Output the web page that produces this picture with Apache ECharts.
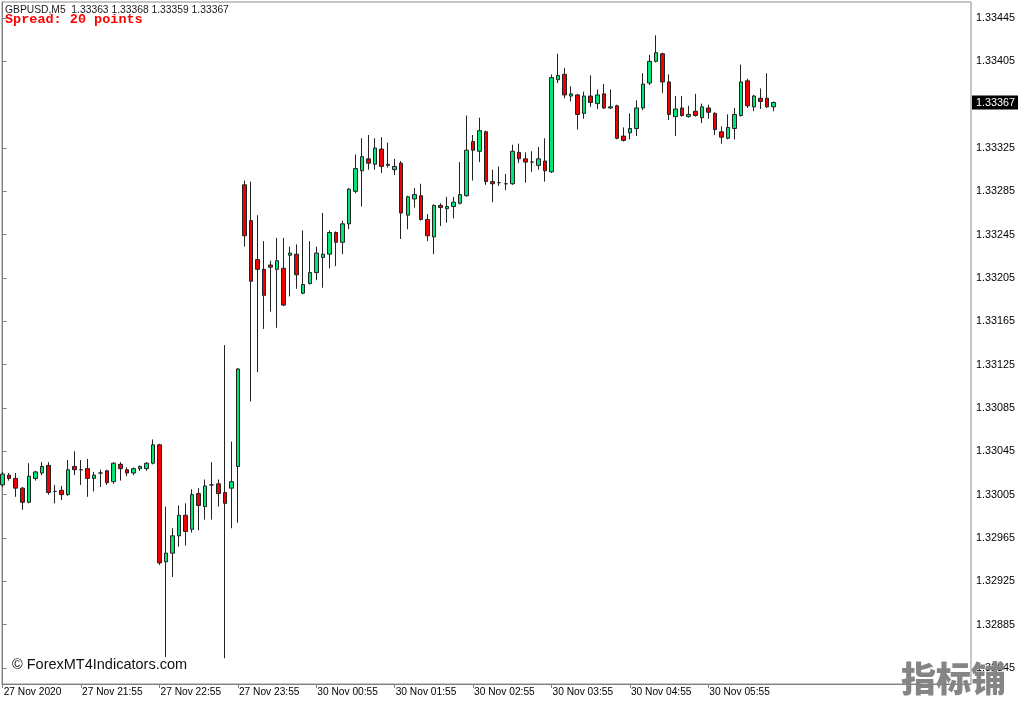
<!DOCTYPE html>
<html>
<head>
<meta charset="utf-8">
<script src="https://cdn.jsdelivr.net/npm/echarts@6/dist/echarts.min.js"></script>
<style>html,body{margin:0;padding:0;background:#fff}#c{width:1024px;height:704px}</style>
</head>
<body>
<div id="c"></div>
<script>
// ---- data (GBPUSD M5, bar index 0 = 27 Nov 20:55) ----
const headerText = 'GBPUSD,M5  1.33363 1.33368 1.33359 1.33367';
const spreadText = 'Spread: 20 points';
const copyrightText = '\u00A9 ForexMT4Indicators.com';
const watermarkText = '指标铺';

const open = [1.33014,1.33023,1.33020,1.33011,1.32998,1.33020,1.33025,1.33032,1.33008,1.33009,
1.33005,1.33031,1.33028,1.33029,1.33020,1.33025,1.33027,1.33017,1.33033,1.33028,
1.33025,1.33029,1.33029,1.33034,1.33051,1.32943,1.32951,1.32967,1.32986,1.32973,
1.33006,1.32994,1.33014,1.33015,1.33007,1.33011,1.33031,1.33291,1.33258,1.33222,
1.33213,1.33217,1.33213,1.33214,1.33226,1.33227,1.33191,1.33200,1.33210,1.33224,
1.33227,1.33247,1.33238,1.33255,1.33285,1.33304,1.33315,1.33310,1.33324,1.33309,
1.33305,1.33311,1.33263,1.33278,1.33281,1.33259,1.33243,1.33272,1.33269,1.33271,
1.33274,1.33281,1.33331,1.33322,1.33340,1.33294,1.33293,1.33292,1.33292,1.33321,
1.33315,1.33312,1.33309,1.33313,1.33303,1.33388,1.33393,1.33373,1.33374,1.33357,
1.33373,1.33366,1.33375,1.33362,1.33364,1.33336,1.33339,1.33343,1.33362,1.33385,
1.33405,1.33412,1.33386,1.33354,1.33362,1.33354,1.33359,1.33353,1.33362,1.33357,
1.33340,1.33334,1.33343,1.33355,1.33387,1.33363,1.33371,1.33371,1.33363];

const high = [1.33026,1.33025,1.33025,1.33012,1.33034,1.33027,1.33035,1.33035,1.33014,1.33013,
1.33037,1.33045,1.33037,1.33038,1.33026,1.33028,1.33028,1.33035,1.33035,1.33030,
1.33030,1.33032,1.33035,1.33056,1.33052,1.32994,1.32974,1.32995,1.32997,1.33010,
1.33011,1.33019,1.33035,1.33019,1.33143,1.33054,1.33122,1.33295,1.33294,1.33263,
1.33239,1.33221,1.33242,1.33242,1.33234,1.33236,1.33249,1.33239,1.33234,1.33265,
1.33249,1.33248,1.33258,1.33288,1.33319,1.33334,1.33337,1.33334,1.33335,1.33330,
1.33315,1.33313,1.33281,1.33288,1.33292,1.33264,1.33273,1.33274,1.33280,1.33280,
1.33312,1.33355,1.33337,1.33353,1.33341,1.33305,1.33308,1.33301,1.33328,1.33329,
1.33321,1.33322,1.33326,1.33334,1.33393,1.33412,1.33399,1.33382,1.33375,1.33377,
1.33392,1.33379,1.33384,1.33379,1.33365,1.33344,1.33357,1.33369,1.33394,1.33411,
1.33429,1.33413,1.33393,1.33373,1.33373,1.33364,1.33375,1.33366,1.33365,1.33358,
1.33345,1.33356,1.33362,1.33402,1.33389,1.33374,1.33380,1.33394,1.33368];

const low = [1.33012,1.33018,1.33003,1.32991,1.32997,1.33018,1.33023,1.33005,1.32997,1.33000,
1.33004,1.33023,1.33014,1.33003,1.33008,1.33012,1.33014,1.33015,1.33018,1.33022,
1.33023,1.33027,1.33027,1.33033,1.32940,1.32855,1.32929,1.32957,1.32958,1.32970,
1.32972,1.32982,1.32982,1.32994,1.32854,1.32974,1.32979,1.33234,1.33091,1.33118,
1.33158,1.33174,1.33159,1.33179,1.33188,1.33195,1.33190,1.33199,1.33203,1.33196,
1.33214,1.33216,1.33227,1.33250,1.33283,1.33271,1.33305,1.33305,1.33302,1.33307,
1.33300,1.33241,1.33250,1.33270,1.33258,1.33239,1.33227,1.33253,1.33256,1.33260,
1.33273,1.33280,1.33295,1.33312,1.33291,1.33275,1.33290,1.33286,1.33291,1.33311,
1.33293,1.33303,1.33305,1.33294,1.33302,1.33385,1.33371,1.33368,1.33342,1.33352,
1.33363,1.33361,1.33361,1.33361,1.33333,1.33331,1.33333,1.33336,1.33360,1.33383,
1.33404,1.33376,1.33351,1.33336,1.33354,1.33353,1.33354,1.33348,1.33352,1.33337,
1.33329,1.33333,1.33333,1.33354,1.33362,1.33359,1.33361,1.33362,1.33359];

const close = [1.33024,1.33020,1.33011,1.32998,1.33022,1.33026,1.33031,1.33007,1.33008,1.33005,
1.33028,1.33028,1.33028,1.33020,1.33023,1.33025,1.33016,1.33034,1.33029,1.33025,
1.33029,1.33031,1.33034,1.33051,1.32942,1.32951,1.32967,1.32986,1.32971,1.33005,
1.32995,1.33013,1.33014,1.33006,1.32997,1.33017,1.33121,1.33244,1.33202,1.33213,
1.33189,1.33215,1.33221,1.33180,1.33228,1.33208,1.33199,1.33210,1.33228,1.33227,
1.33247,1.33238,1.33255,1.33287,1.33306,1.33317,1.33311,1.33325,1.33308,1.33310,
1.33308,1.33265,1.33280,1.33282,1.33259,1.33244,1.33272,1.33270,1.33271,1.33275,
1.33282,1.33323,1.33323,1.33341,1.33294,1.33292,1.33293,1.33292,1.33322,1.33315,
1.33312,1.33312,1.33315,1.33304,1.33390,1.33392,1.33374,1.33375,1.33356,1.33373,
1.33367,1.33374,1.33362,1.33363,1.33334,1.33332,1.33343,1.33362,1.33384,1.33405,
1.33413,1.33386,1.33356,1.33361,1.33355,1.33356,1.33355,1.33363,1.33358,1.33342,
1.33335,1.33344,1.33356,1.33386,1.33364,1.33373,1.33368,1.33363,1.33367];

const tickBars = [0, 12, 24, 36, 48, 60, 72, 84, 96, 108];
const tickLabels = ['27 Nov 2020','27 Nov 21:55','27 Nov 22:55','27 Nov 23:55','30 Nov 00:55',
  '30 Nov 01:55','30 Nov 02:55','30 Nov 03:55','30 Nov 04:55','30 Nov 05:55'];
const priceTicks = [1.33445,1.33405,1.33325,1.33285,1.33245,1.33205,1.33165,1.33125,
  1.33085,1.33045,1.33005,1.32965,1.32925,1.32885,1.32845];

// ---- chart ----
const chart = echarts.init(document.getElementById('c'), null, {renderer: 'canvas'});
const lastClose = close[close.length - 1];
const candles = open.map((o, i) => [i, o, close[i], low[i], high[i]]);
const uiFont = 'Liberation Sans';

chart.setOption({
  animation: false,
  backgroundColor: '#ffffff',
  grid: {left: 2, top: 2, right: 53, bottom: 20, show: true, borderColor: '#8c8c8c', borderWidth: 1},
  xAxis: {
    type: 'value', min: -0.1, max: 148.2,
    splitLine: {show: false},
    axisLine: {show: true, onZero: false, lineStyle: {color: '#808080'}},
    axisTick: {show: true, customValues: tickBars, length: 4, lineStyle: {color: '#808080'}},
    axisLabel: {
      customValues: tickBars,
      formatter: v => { const k = tickBars.indexOf(Math.round(v)); return k >= 0 ? tickLabels[k] : ''; },
      align: 'left', margin: 3, padding: [0, 0, 0, 1],
      color: '#000', fontFamily: uiFont, fontSize: 10.2
    }
  },
  yAxis: {
    type: 'value', position: 'right', min: 1.328302, max: 1.334598,
    splitLine: {show: false},
    axisLine: {show: true, lineStyle: {color: '#808080'}},
    axisTick: {show: true, customValues: priceTicks, length: 4, lineStyle: {color: '#808080'}},
    axisLabel: {
      customValues: priceTicks.concat([lastClose]),
      margin: 1,
      formatter: v => Math.abs(v - lastClose) < 1e-9 ? '{tag|' + v.toFixed(5) + '}' : '{n|' + v.toFixed(5) + '}',
      rich: {
        n: {color: '#000', fontFamily: uiFont, fontSize: 10.8, padding: [0, 0, 0, 4]},
        tag: {color: '#ffffff', backgroundColor: '#000000', fontFamily: uiFont, fontSize: 10.8, padding: [2, 3, 1, 4]}
      }
    }
  },
  series: [{
    type: 'candlestick',
    data: candles,
    barWidth: 4,
    clip: true,
    itemStyle: {
      color: '#00E676', color0: '#F00000',
      borderColor: '#222', borderColor0: '#222', borderColorDoji: '#222', borderWidth: 1
    }
  }],
  graphic: [
    {type: 'text', x: 5, y: 10, z: 50, style: {text: headerText, fill: '#1a1a1a', font: '10.3px "Liberation Sans"', verticalAlign: 'middle', align: 'left'}},
    {type: 'text', x: 5, y: 20, z: 50, style: {text: spreadText, fill: '#ff0000', font: 'bold 13.5px "Liberation Mono"', verticalAlign: 'middle', align: 'left'}},
    {type: 'text', x: 12, y: 665, z: 50, style: {text: copyrightText, fill: '#111', font: '14.5px "Liberation Sans"', verticalAlign: 'middle', align: 'left'}},
    {type: 'text', x: 901, y: 679, z: 100, style: {text: watermarkText, fill: '#858585', font: '900 35px "Noto Sans CJK SC"', verticalAlign: 'middle', align: 'left'}}
  ]
});
</script>
</body>
</html>
